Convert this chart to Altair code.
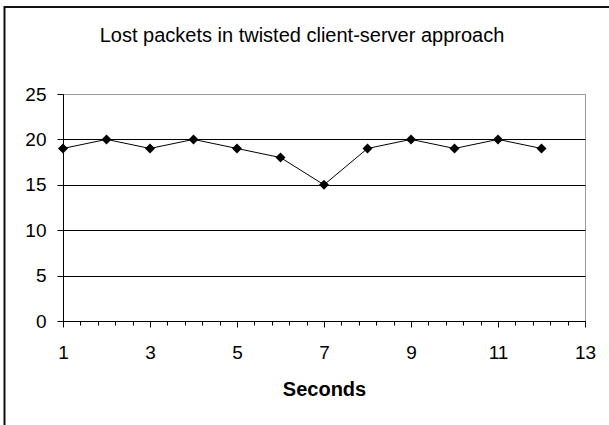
import altair as alt
import pandas as pd

# Lost packets per second
seconds = [1, 2, 3, 4, 5, 6, 7, 8, 9, 10, 11, 12]
lost = [19, 20, 19, 20, 19, 18, 15, 19, 20, 19, 20, 19]

x_labels = [1, 3, 5, 7, 9, 11, 13]
y_labels = [0, 5, 10, 15, 20, 25]
minor_ticks = [round(1 + 0.4 * i, 1) for i in range(31)]

FONT = "Liberation Sans"

df = pd.DataFrame({"Seconds": seconds, "Lost": lost})

xs = alt.Scale(domain=[1, 13], nice=False, zero=False)
ys = alt.Scale(domain=[0, 25], nice=False, zero=True)

base = alt.Chart(df)

line = base.mark_line(color="black", strokeWidth=1).encode(
    x=alt.X(
        "Seconds:Q",
        scale=xs,
        axis=alt.Axis(
            values=x_labels, title="Seconds", orient="bottom", tickSize=6,
            labelPadding=16, titlePadding=17, grid=False, format="d",
            labelFlush=False,
        ),
    ),
    y=alt.Y(
        "Lost:Q",
        scale=ys,
        axis=alt.Axis(
            values=y_labels, title=None, tickSize=6, labelPadding=11, grid=True,
            labelFlush=False,
            gridColor=alt.condition("datum.value == 25", alt.value("#9a9a9a"), alt.value("#000000")),
        ),
    ),
)

points = base.mark_point(shape="diamond", filled=True, size=100, color="black", opacity=1).encode(
    x=alt.X(
        "Seconds:Q",
        scale=xs,
        axis=alt.Axis(
            values=minor_ticks, labels=False, domain=False, tickSize=4,
            grid=False, title=None, orient="bottom",
        ),
    ),
    y=alt.Y("Lost:Q", scale=ys),
)

# chart frame: top and left edges
frame_df = pd.DataFrame({"k": [0]})
top_edge = alt.Chart(frame_df).mark_rule(color="#111111", strokeWidth=2).encode(
    x=alt.value(-59), x2=alt.value(546), y=alt.value(-87)
)
left_edge = alt.Chart(frame_df).mark_rule(color="#111111", strokeWidth=2).encode(
    x=alt.value(-58.5), y=alt.value(-88), y2=alt.value(331)
)

chart = (
    alt.layer(line, points, top_edge, left_edge)
    .resolve_axis(x="independent")
    .properties(
        width=522,
        height=227,
        padding={"left": 63, "top": 94, "right": 24, "bottom": 104},
        autosize="none",
        background="white",
        title=alt.TitleParams(
            "Lost packets in twisted client-server approach",
            font=FONT, fontSize=20, fontWeight="normal", color="black",
            anchor="middle", frame="group", dx=-22, offset=-61,
            baseline="bottom",
        ),
    )
    .configure_view(stroke="#9a9a9a", strokeWidth=1)
    .configure_axis(
        domainColor="black", tickColor="black", labelColor="black",
        labelFont=FONT, labelFontSize=19, titleFont=FONT, titleFontSize=20,
        titleFontWeight="bold", titleColor="black", domainWidth=1, tickWidth=1,
    )
)

chart.save("out.html", embed_options={"renderer": "svg", "actions": False})
